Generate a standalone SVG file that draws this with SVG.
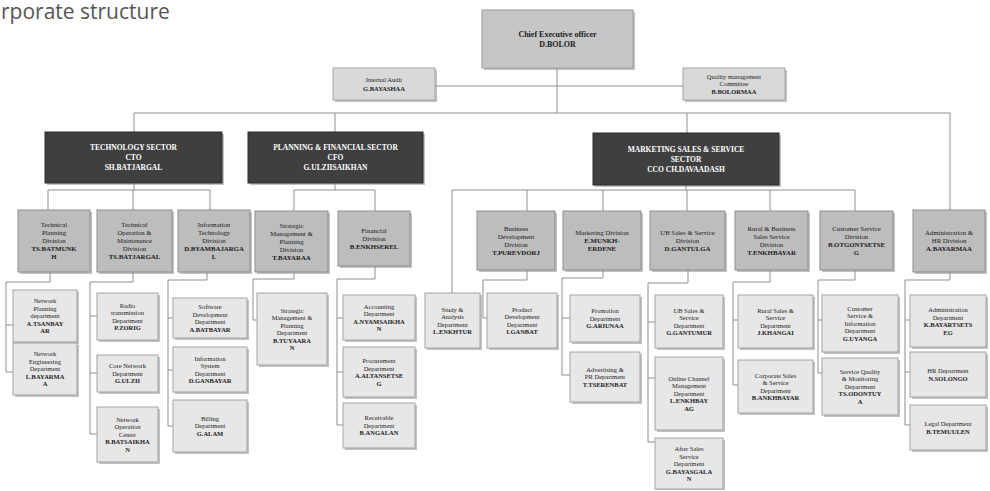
<svg xmlns="http://www.w3.org/2000/svg" width="990" height="491" viewBox="0 0 990 491">
  <style>
    .title { font-family: "Open Sans", "Liberation Sans", sans-serif; font-size: 21px; fill: #555; }
    .t { font-family: "Liberation Serif", serif; font-size: 6.5px; fill: #222; text-anchor: middle; }
    .td { font-family: "Liberation Serif", serif; font-size: 6.8px; fill: #1a1a1a; text-anchor: middle; }
    .ts { font-family: "Liberation Serif", serif; font-size: 7.5px; font-weight: bold; fill: #fff; text-anchor: middle; }
    .tc { font-family: "Liberation Serif", serif; font-size: 8px; font-weight: bold; fill: #1a1a1a; text-anchor: middle; }
    .b { font-weight: bold; }
    .sh { fill: #8f8f8f; opacity: 0.55; }
    .ceo { fill: #c6c6c6; stroke: #9a9a9a; stroke-width: 1; }
    .top { fill: #d9d9d9; stroke: #a5a5a5; stroke-width: 1; }
    .sec { fill: #3f3f3f; stroke: #2a2a2a; stroke-width: 1; }
    .div { fill: #bdbdbd; stroke: #8d8d8d; stroke-width: 1; }
    .sub { fill: #e7e7e7; stroke: #a3a3a3; stroke-width: 1; }
    .ln { fill: none; stroke: #8f8f8f; stroke-width: 1; }
  </style>
  <defs>
    <pattern id="dots" width="3" height="3" patternUnits="userSpaceOnUse">
      <rect width="3" height="3" fill="#c6c6c6"/>
      <circle cx="1.5" cy="1.5" r="0.6" fill="#b0b0b0"/>
    </pattern>
  </defs>

  <text class="title" x="1" y="19">rporate structure</text>

  <!-- connectors -->
  <g id="connectors" class="ln">
    <!-- top level -->
    <path d="M557 68 V113 M435 86 H683 M134 113 H950 M134 113 V132 M335 113 V132 M687 113 V133 M950 113 V210"/>
    <!-- technology sector -->
    <path d="M134 183 V190 M48 190 H210 M48 190 V210 M133 190 V210 M210 190 V210"/>
    <path d="M50 272 V282 H6 V372 M6 325 H13 M6 372 H13"/>
    <path d="M133 272 V282 H90 V434 M90 316 H97 M90 373 H97 M90 434 H97"/>
    <path d="M207 272 V280 H168 V426 M168 318 H173 M168 370 H173 M168 426 H173"/>
    <!-- planning & financial sector -->
    <path d="M335 183 V190 M294 190 H375 M294 190 V211 M375 190 V211"/>
    <path d="M294 272 V279 H253 V320 H257"/>
    <path d="M375 266 V279 H337 V425 M337 318 H343 M337 372 H343 M337 425 H343"/>
    <!-- marketing, sales & service sector -->
    <path d="M686 185 V190 M452 190 H855 M452 190 V293 M527 190 V211 M603 190 V211 M687 190 V211 M770 190 V211 M855 190 V211"/>
    <path d="M527 270 V280 H483 V318 H487"/>
    <path d="M603 270 V278 H562 V375 M562 318 H570 M562 375 H570"/>
    <path d="M688 270 V283 H648 V442 M648 322 H655 M648 378 H655 M648 442 H655"/>
    <path d="M770 270 V282 H733 V385 M733 320 H738 M733 385 H738"/>
    <path d="M855 270 V280 H818 V373 M818 320 H822 M818 373 H822"/>
    <path d="M950 272 V280 H905 V425 M905 320 H910 M905 372 H910 M905 425 H910"/>
  </g>

  <!-- top level -->
  <g id="ceo">
    <rect class="sh" x="484" y="12" width="151" height="58"/>
    <rect class="ceo" x="482" y="10" width="151" height="58" fill="url(#dots)"/>
    <text class="tc" x="557.5" y="36.8"><tspan x="557.5">Chief Executive officer</tspan><tspan x="557.5" dy="10">D.BOLOR</tspan></text>
  </g>
  <g id="internal-audit">
    <rect class="sh" x="335" y="70" width="102" height="32"/>
    <rect class="top" x="333" y="68" width="102" height="32"/>
    <text class="t" x="384" y="82"><tspan x="384">Internal Audit</tspan><tspan x="384" dy="9" class="b">G.BAYASHAA</tspan></text>
  </g>
  <g id="quality-committee">
    <rect class="sh" x="685" y="70" width="102" height="32"/>
    <rect class="top" x="683" y="68" width="102" height="32"/>
    <text class="t" x="734" y="78.8"><tspan x="734">Quality management</tspan><tspan x="734" dy="7.5">Committee</tspan><tspan x="734" dy="7.5" class="b">B.BOLORMAA</tspan></text>
  </g>

  <!-- sectors -->
  <g id="technology-sector">
    <rect class="sh" x="47" y="134" width="177" height="51"/>
    <rect class="sec" x="45" y="132" width="177" height="51"/>
    <text class="ts" x="133.5" y="150.1"><tspan x="133.5">TECHNOLOGY SECTOR</tspan><tspan x="133.5" dy="10">CTO</tspan><tspan x="133.5" dy="10">SH.BATJARGAL</tspan></text>
  </g>
  <g id="planning-sector">
    <rect class="sh" x="250" y="134" width="175" height="51"/>
    <rect class="sec" x="248" y="132" width="175" height="51"/>
    <text class="ts" x="335.5" y="150.1"><tspan x="335.5">PLANNING &amp; FINANCIAL SECTOR</tspan><tspan x="335.5" dy="10">CFO</tspan><tspan x="335.5" dy="10">G.ULZIISAIKHAN</tspan></text>
  </g>
  <g id="marketing-sector">
    <rect class="sh" x="595" y="135" width="186" height="52"/>
    <rect class="sec" x="593" y="133" width="186" height="52"/>
    <text class="ts" x="686" y="151.6"><tspan x="686">MARKETING SALES &amp; SERVICE</tspan><tspan x="686" dy="10">SECTOR</tspan><tspan x="686" dy="10">CCO CH.DAVAADASH</tspan></text>
  </g>

  <!-- technology divisions -->
  <g id="technical-planning-division">
    <rect class="sh" x="20" y="212" width="72" height="62"/>
    <rect class="div" x="18" y="210" width="72" height="62"/>
    <text class="td" x="54" y="227.4"><tspan x="54">Technical</tspan><tspan x="54" dy="8">Planning</tspan><tspan x="54" dy="8">Division</tspan><tspan x="54" dy="8" class="b">TS.BATMUNK</tspan><tspan x="54" dy="8" class="b">H</tspan></text>
  </g>
  <g id="technical-operation-division">
    <rect class="sh" x="99" y="212" width="75" height="62"/>
    <rect class="div" x="97" y="210" width="75" height="62"/>
    <text class="td" x="134.5" y="227.4"><tspan x="134.5">Technical</tspan><tspan x="134.5" dy="8">Operation &amp;</tspan><tspan x="134.5" dy="8">Maintenance</tspan><tspan x="134.5" dy="8">Division</tspan><tspan x="134.5" dy="8" class="b">TS.BATJARGAL</tspan></text>
  </g>
  <g id="information-technology-division">
    <rect class="sh" x="180" y="212" width="72" height="62"/>
    <rect class="div" x="178" y="210" width="72" height="62"/>
    <text class="td" x="214" y="227.4"><tspan x="214">Information</tspan><tspan x="214" dy="8">Technology</tspan><tspan x="214" dy="8">Division</tspan><tspan x="214" dy="8" class="b">D.BYAMBAJARGA</tspan><tspan x="214" dy="8" class="b">L</tspan></text>
  </g>

  <!-- technology departments -->
  <g id="network-planning-department">
    <rect class="sh" x="15" y="292" width="64" height="52"/>
    <rect class="sub" x="13" y="290" width="64" height="52"/>
    <text class="t" x="45" y="303.3"><tspan x="45">Network</tspan><tspan x="45" dy="7.5">Planning</tspan><tspan x="45" dy="7.5">department</tspan><tspan x="45" dy="7.5" class="b">A.TSANBAY</tspan><tspan x="45" dy="7.5" class="b">AR</tspan></text>
  </g>
  <g id="network-engineering-department">
    <rect class="sh" x="15" y="345" width="64" height="52"/>
    <rect class="sub" x="13" y="343" width="64" height="52"/>
    <text class="t" x="45" y="356.3"><tspan x="45">Network</tspan><tspan x="45" dy="7.5">Engineering</tspan><tspan x="45" dy="7.5">Department</tspan><tspan x="45" dy="7.5" class="b">L.BAYARMA</tspan><tspan x="45" dy="7.5" class="b">A</tspan></text>
  </g>
  <g id="radio-transmission-department">
    <rect class="sh" x="99" y="295" width="61" height="47"/>
    <rect class="sub" x="97" y="293" width="61" height="47"/>
    <text class="t" x="127.5" y="307.6"><tspan x="127.5">Radio</tspan><tspan x="127.5" dy="7.5">transmission</tspan><tspan x="127.5" dy="7.5">Department</tspan><tspan x="127.5" dy="7.5" class="b">P.ZORIG</tspan></text>
  </g>
  <g id="core-network-department">
    <rect class="sh" x="99" y="357" width="61" height="37"/>
    <rect class="sub" x="97" y="355" width="61" height="37"/>
    <text class="t" x="127.5" y="368.3"><tspan x="127.5">Core Network</tspan><tspan x="127.5" dy="7.5">Department</tspan><tspan x="127.5" dy="7.5" class="b">G.ULZII</tspan></text>
  </g>
  <g id="network-operation-center">
    <rect class="sh" x="99" y="409" width="61" height="55"/>
    <rect class="sub" x="97" y="407" width="61" height="55"/>
    <text class="t" x="127.5" y="421.8"><tspan x="127.5">Network</tspan><tspan x="127.5" dy="7.5">Operation</tspan><tspan x="127.5" dy="7.5">Center</tspan><tspan x="127.5" dy="7.5" class="b">B.BATSAIKHA</tspan><tspan x="127.5" dy="7.5" class="b">N</tspan></text>
  </g>
  <g id="software-development-department">
    <rect class="sh" x="175" y="300" width="74" height="40"/>
    <rect class="sub" x="173" y="298" width="74" height="40"/>
    <text class="t" x="210" y="309.1"><tspan x="210">Software</tspan><tspan x="210" dy="7.5">Development</tspan><tspan x="210" dy="7.5">Department</tspan><tspan x="210" dy="7.5" class="b">A.BATBAYAR</tspan></text>
  </g>
  <g id="information-system-department">
    <rect class="sh" x="175" y="349" width="74" height="45"/>
    <rect class="sub" x="173" y="347" width="74" height="45"/>
    <text class="t" x="210" y="360.6"><tspan x="210">Information</tspan><tspan x="210" dy="7.5">System</tspan><tspan x="210" dy="7.5">Department</tspan><tspan x="210" dy="7.5" class="b">D.GANBAYAR</tspan></text>
  </g>
  <g id="billing-department">
    <rect class="sh" x="175" y="402" width="74" height="52"/>
    <rect class="sub" x="173" y="400" width="74" height="52"/>
    <text class="t" x="210" y="420.8"><tspan x="210">Billing</tspan><tspan x="210" dy="7.5">Department</tspan><tspan x="210" dy="7.5" class="b">G.ALAM</tspan></text>
  </g>

  <!-- planning & financial divisions -->
  <g id="strategic-planning-division">
    <rect class="sh" x="257" y="213" width="73" height="61"/>
    <rect class="div" x="255" y="211" width="73" height="61"/>
    <text class="td" x="291.5" y="227.9"><tspan x="291.5">Strategic</tspan><tspan x="291.5" dy="8">Management &amp;</tspan><tspan x="291.5" dy="8">Planning</tspan><tspan x="291.5" dy="8">Division</tspan><tspan x="291.5" dy="8" class="b">T.BAYARAA</tspan></text>
  </g>
  <g id="financial-division">
    <rect class="sh" x="340" y="213" width="72" height="55"/>
    <rect class="div" x="338" y="211" width="72" height="55"/>
    <text class="td" x="374" y="232.9"><tspan x="374">Financial</tspan><tspan x="374" dy="8">Division</tspan><tspan x="374" dy="8" class="b">B.ENKHSEREL</tspan></text>
  </g>

  <!-- planning & financial departments -->
  <g id="strategic-planning-department">
    <rect class="sh" x="259" y="295" width="70" height="72"/>
    <rect class="sub" x="257" y="293" width="70" height="72"/>
    <text class="t" x="292" y="312.6"><tspan x="292">Strategic</tspan><tspan x="292" dy="7.5">Management &amp;</tspan><tspan x="292" dy="7.5">Planning</tspan><tspan x="292" dy="7.5">Department</tspan><tspan x="292" dy="7.5" class="b">B.TUYAARA</tspan><tspan x="292" dy="7.5" class="b">N</tspan></text>
  </g>
  <g id="accounting-department">
    <rect class="sh" x="345" y="297" width="72" height="45"/>
    <rect class="sub" x="343" y="295" width="72" height="45"/>
    <text class="t" x="379" y="308.6"><tspan x="379">Accounting</tspan><tspan x="379" dy="7.5">Department</tspan><tspan x="379" dy="7.5" class="b">A.NYAMSAIKHA</tspan><tspan x="379" dy="7.5" class="b">N</tspan></text>
  </g>
  <g id="procurement-department">
    <rect class="sh" x="345" y="349" width="72" height="50"/>
    <rect class="sub" x="343" y="347" width="72" height="50"/>
    <text class="t" x="379" y="363.1"><tspan x="379">Procurement</tspan><tspan x="379" dy="7.5">Department</tspan><tspan x="379" dy="7.5" class="b">A.ALTANSETSE</tspan><tspan x="379" dy="7.5" class="b">G</tspan></text>
  </g>
  <g id="receivable-department">
    <rect class="sh" x="345" y="405" width="72" height="45"/>
    <rect class="sub" x="343" y="403" width="72" height="45"/>
    <text class="t" x="379" y="420.3"><tspan x="379">Receivable</tspan><tspan x="379" dy="7.5">Department</tspan><tspan x="379" dy="7.5" class="b">B.ANGALAN</tspan></text>
  </g>

  <!-- marketing, sales & service divisions -->
  <g id="business-development-division">
    <rect class="sh" x="479" y="213" width="78" height="59"/>
    <rect class="div" x="477" y="211" width="78" height="59"/>
    <text class="td" x="516" y="230.9"><tspan x="516">Business</tspan><tspan x="516" dy="8">Development</tspan><tspan x="516" dy="8">Division</tspan><tspan x="516" dy="8" class="b">T.PUREVDORJ</tspan></text>
  </g>
  <g id="marketing-division">
    <rect class="sh" x="565" y="213" width="78" height="59"/>
    <rect class="div" x="563" y="211" width="78" height="59"/>
    <text class="td" x="602" y="234.9"><tspan x="602">Marketing Division</tspan><tspan x="602" dy="8" class="b">E.MUNKH-</tspan><tspan x="602" dy="8" class="b">ERDENE</tspan></text>
  </g>
  <g id="ub-sales-division">
    <rect class="sh" x="652" y="213" width="75" height="59"/>
    <rect class="div" x="650" y="211" width="75" height="59"/>
    <text class="td" x="687.5" y="234.9"><tspan x="687.5">UB Sales &amp; Service</tspan><tspan x="687.5" dy="8">Division</tspan><tspan x="687.5" dy="8" class="b">D.GANTULGA</tspan></text>
  </g>
  <g id="rural-business-division">
    <rect class="sh" x="737" y="213" width="73" height="59"/>
    <rect class="div" x="735" y="211" width="73" height="59"/>
    <text class="td" x="771.5" y="230.9"><tspan x="771.5">Rural &amp; Business</tspan><tspan x="771.5" dy="8">Sales Service</tspan><tspan x="771.5" dy="8">Division</tspan><tspan x="771.5" dy="8" class="b">T.ENKHBAYAR</tspan></text>
  </g>
  <g id="customer-service-division">
    <rect class="sh" x="822" y="213" width="73" height="59"/>
    <rect class="div" x="820" y="211" width="73" height="59"/>
    <text class="td" x="856.5" y="230.9"><tspan x="856.5">Customer Service</tspan><tspan x="856.5" dy="8">Division</tspan><tspan x="856.5" dy="8" class="b">B.OTGONTSETSE</tspan><tspan x="856.5" dy="8" class="b">G</tspan></text>
  </g>
  <g id="administration-hr-division">
    <rect class="sh" x="915" y="212" width="72" height="62"/>
    <rect class="div" x="913" y="210" width="72" height="62"/>
    <text class="td" x="949" y="235.4"><tspan x="949">Administration &amp;</tspan><tspan x="949" dy="8">HR Division</tspan><tspan x="949" dy="8" class="b">A.BAYARMAA</tspan></text>
  </g>

  <!-- marketing, sales & service departments -->
  <g id="study-analysis-department">
    <rect class="sh" x="427" y="295" width="55" height="55"/>
    <rect class="sub" x="425" y="293" width="55" height="55"/>
    <text class="t" x="452.5" y="311.6"><tspan x="452.5">Study &amp;</tspan><tspan x="452.5" dy="7.5">Analysis</tspan><tspan x="452.5" dy="7.5">Department</tspan><tspan x="452.5" dy="7.5" class="b">L.ENKHTUR</tspan></text>
  </g>
  <g id="product-development-department">
    <rect class="sh" x="489" y="295" width="70" height="55"/>
    <rect class="sub" x="487" y="293" width="70" height="55"/>
    <text class="t" x="522" y="311.6"><tspan x="522">Product</tspan><tspan x="522" dy="7.5">Development</tspan><tspan x="522" dy="7.5">Department</tspan><tspan x="522" dy="7.5" class="b">I.GANBAT</tspan></text>
  </g>
  <g id="promotion-department">
    <rect class="sh" x="572" y="297" width="70" height="47"/>
    <rect class="sub" x="570" y="295" width="70" height="47"/>
    <text class="t" x="605" y="313.3"><tspan x="605">Promotion</tspan><tspan x="605" dy="7.5">Department</tspan><tspan x="605" dy="7.5" class="b">G.ARIUNAA</tspan></text>
  </g>
  <g id="advertising-pr-department">
    <rect class="sh" x="572" y="354" width="70" height="50"/>
    <rect class="sub" x="570" y="352" width="70" height="50"/>
    <text class="t" x="605" y="371.8"><tspan x="605">Advertising &amp;</tspan><tspan x="605" dy="7.5">PR Department</tspan><tspan x="605" dy="7.5" class="b">T.TSERENBAT</tspan></text>
  </g>
  <g id="ub-sales-department">
    <rect class="sh" x="657" y="297" width="68" height="53"/>
    <rect class="sub" x="655" y="295" width="68" height="53"/>
    <text class="t" x="689" y="312.6"><tspan x="689">UB Sales &amp;</tspan><tspan x="689" dy="7.5">Service</tspan><tspan x="689" dy="7.5">Department</tspan><tspan x="689" dy="7.5" class="b">G.GANTUMUR</tspan></text>
  </g>
  <g id="online-channel-department">
    <rect class="sh" x="657" y="359" width="68" height="73"/>
    <rect class="sub" x="655" y="357" width="68" height="73"/>
    <text class="t" x="689" y="380.8"><tspan x="689">Online Channel</tspan><tspan x="689" dy="7.5">Management</tspan><tspan x="689" dy="7.5">Department</tspan><tspan x="689" dy="7.5" class="b">L.ENKHBAY</tspan><tspan x="689" dy="7.5" class="b">AG</tspan></text>
  </g>
  <g id="after-sales-department">
    <rect class="sh" x="657" y="440" width="68" height="50"/>
    <rect class="sub" x="655" y="438" width="68" height="51"/>
    <text class="t" x="689" y="451.3"><tspan x="689">After Sales</tspan><tspan x="689" dy="7.5">Service</tspan><tspan x="689" dy="7.5">Department</tspan><tspan x="689" dy="7.5" class="b">G.BAYASGALA</tspan><tspan x="689" dy="7.5" class="b">N</tspan></text>
  </g>
  <g id="rural-sales-department">
    <rect class="sh" x="740" y="297" width="75" height="53"/>
    <rect class="sub" x="738" y="295" width="75" height="53"/>
    <text class="t" x="775.5" y="312.6"><tspan x="775.5">Rural Sales &amp;</tspan><tspan x="775.5" dy="7.5">Service</tspan><tspan x="775.5" dy="7.5">Department</tspan><tspan x="775.5" dy="7.5" class="b">J.KHANGAI</tspan></text>
  </g>
  <g id="corporate-sales-department">
    <rect class="sh" x="740" y="362" width="75" height="53"/>
    <rect class="sub" x="738" y="360" width="75" height="53"/>
    <text class="t" x="775.5" y="377.6"><tspan x="775.5">Corporate Sales</tspan><tspan x="775.5" dy="7.5">&amp; Service</tspan><tspan x="775.5" dy="7.5">Department</tspan><tspan x="775.5" dy="7.5" class="b">B.ANKHBAYAR</tspan></text>
  </g>
  <g id="customer-information-department">
    <rect class="sh" x="824" y="297" width="76" height="57"/>
    <rect class="sub" x="822" y="295" width="76" height="57"/>
    <text class="t" x="860" y="310.8"><tspan x="860">Customer</tspan><tspan x="860" dy="7.5">Service &amp;</tspan><tspan x="860" dy="7.5">Information</tspan><tspan x="860" dy="7.5">Department</tspan><tspan x="860" dy="7.5" class="b">G.UYANGA</tspan></text>
  </g>
  <g id="service-quality-department">
    <rect class="sh" x="824" y="360" width="76" height="57"/>
    <rect class="sub" x="822" y="358" width="76" height="57"/>
    <text class="t" x="860" y="373.8"><tspan x="860">Service Quality</tspan><tspan x="860" dy="7.5">&amp; Monitoring</tspan><tspan x="860" dy="7.5">Department</tspan><tspan x="860" dy="7.5" class="b">TS.ODONTUY</tspan><tspan x="860" dy="7.5" class="b">A</tspan></text>
  </g>
  <g id="administration-department">
    <rect class="sh" x="912" y="297" width="76" height="52"/>
    <rect class="sub" x="910" y="295" width="76" height="52"/>
    <text class="t" x="948" y="312.1"><tspan x="948">Administration</tspan><tspan x="948" dy="7.5">Department</tspan><tspan x="948" dy="7.5" class="b">K.BAYARTSETS</tspan><tspan x="948" dy="7.5" class="b">EG</tspan></text>
  </g>
  <g id="hr-department">
    <rect class="sh" x="912" y="354" width="76" height="45"/>
    <rect class="sub" x="910" y="352" width="76" height="45"/>
    <text class="t" x="948" y="373.1"><tspan x="948">HR Department</tspan><tspan x="948" dy="7.5" class="b">N.SOLONGO</tspan></text>
  </g>
  <g id="legal-department">
    <rect class="sh" x="912" y="407" width="76" height="45"/>
    <rect class="sub" x="910" y="405" width="76" height="45"/>
    <text class="t" x="948" y="426.1"><tspan x="948">Legal Department</tspan><tspan x="948" dy="7.5" class="b">B.TEMUULEN</tspan></text>
  </g>
</svg>
